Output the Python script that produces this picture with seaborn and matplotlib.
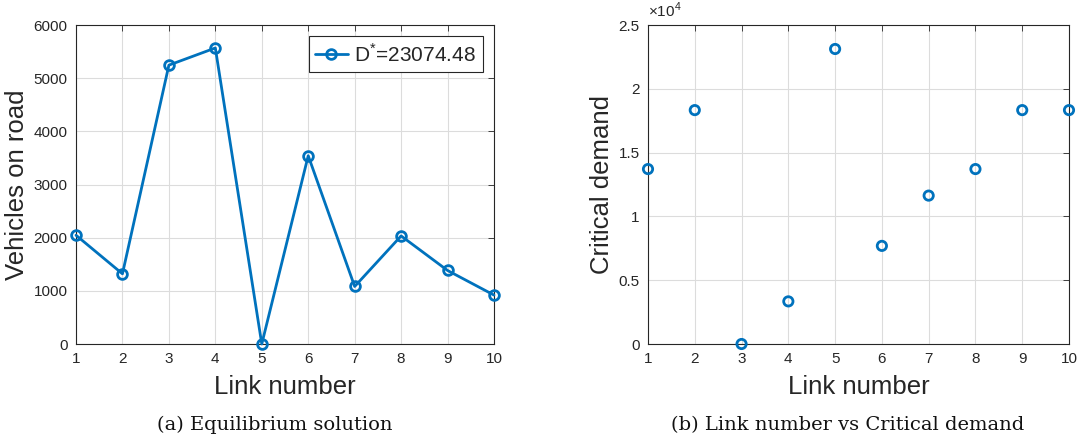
import numpy as np
import pandas as pd
import matplotlib
matplotlib.use('Agg')
import matplotlib.pyplot as plt
import seaborn as sns
from matplotlib.ticker import FuncFormatter

# Data
links = [1, 2, 3, 4, 5, 6, 7, 8, 9, 10]
vehicles = [2046, 1320, 5245, 5568, 0, 3541, 1082, 2033, 1383, 920]
critical_demand = [13710, 18330, 0, 3340, 23120, 7690, 11630, 13710, 18330, 18330]
legend_label = r'D$^{*}$=23074.48'

blue = '#0072BD'

sns.set_theme(style='whitegrid')
plt.rcParams['font.family'] = ['Liberation Sans', 'DejaVu Sans']
plt.rcParams['mathtext.fontset'] = 'custom'
plt.rcParams['mathtext.rm'] = 'Liberation Sans'

df = pd.DataFrame({'link': links, 'vehicles': vehicles, 'demand': critical_demand})

fig = plt.figure(figsize=(10.78, 4.4), dpi=100)
W, H = 1078, 440
ax1 = fig.add_axes([76 / W, 1 - 344 / H, (494 - 76) / W, (344 - 25) / H])
ax2 = fig.add_axes([648 / W, 1 - 344 / H, (1069 - 648) / W, (344 - 25) / H])


def style_axes(ax):
    ax.set_facecolor('white')
    ax.grid(True, color='#dcdcdc', linewidth=0.8)
    for s in ax.spines.values():
        s.set_color('#262626')
        s.set_linewidth(0.8)
    ax.tick_params(direction='in', top=True, right=True, length=4, width=0.6,
                   color='#262626', labelsize=11, labelcolor='#262626', pad=6)
    ax.set_xlim(1, 10)
    ax.set_xticks(links)


# Left: equilibrium solution
sns.lineplot(data=df, x='link', y='vehicles', ax=ax1, color=blue, linewidth=2,
             marker='o', markersize=7, markerfacecolor='none',
             markeredgecolor=blue, markeredgewidth=2, label=legend_label,
             clip_on=False, zorder=3)
style_axes(ax1)
ax1.set_ylim(0, 6000)
ax1.set_yticks(range(0, 6001, 1000))
ax1.set_xlabel('Link number', fontsize=18.5, color='#262626', labelpad=6)
ax1.set_ylabel('Vehicles on road', fontsize=18.5, color='#262626', labelpad=3)
leg = ax1.legend(loc='upper right', fontsize=15, frameon=True, fancybox=False,
                 edgecolor='#262626', framealpha=1, borderpad=0.3,
                 handlelength=1.6, handletextpad=0.3, borderaxespad=0.55)
leg.get_frame().set_linewidth(0.8)

# Right: critical demand
sns.scatterplot(data=df, x='link', y='demand', ax=ax2, s=45,
                facecolor='none', edgecolor=blue, linewidth=2, marker='o',
                clip_on=False, zorder=3)
style_axes(ax2)
ax2.set_ylim(0, 25000)
ax2.set_yticks(np.arange(0, 25001, 5000))
ax2.yaxis.set_major_formatter(FuncFormatter(lambda v, p: '%g' % (v / 1e4)))
ax2.set_xlabel('Link number', fontsize=18.5, color='#262626', labelpad=6)
ax2.set_ylabel('Critical demand', fontsize=18.5, color='#262626', labelpad=3)
ax2.text(0.0, 1.015, r'$\times10^{4}$', transform=ax2.transAxes, fontsize=11,
         color='#262626', ha='left', va='bottom')

# Captions
fig.text(275 / W, 1 - 425 / H, '(a) Equilibrium solution', family='DejaVu Serif',
         fontsize=14, ha='center', va='center', color='#111111')
fig.text(848 / W, 1 - 425 / H, '(b) Link number vs Critical demand',
         family='DejaVu Serif', fontsize=14, ha='center', va='center',
         color='#111111')

fig.savefig('out.png', dpi=100, facecolor='white')
